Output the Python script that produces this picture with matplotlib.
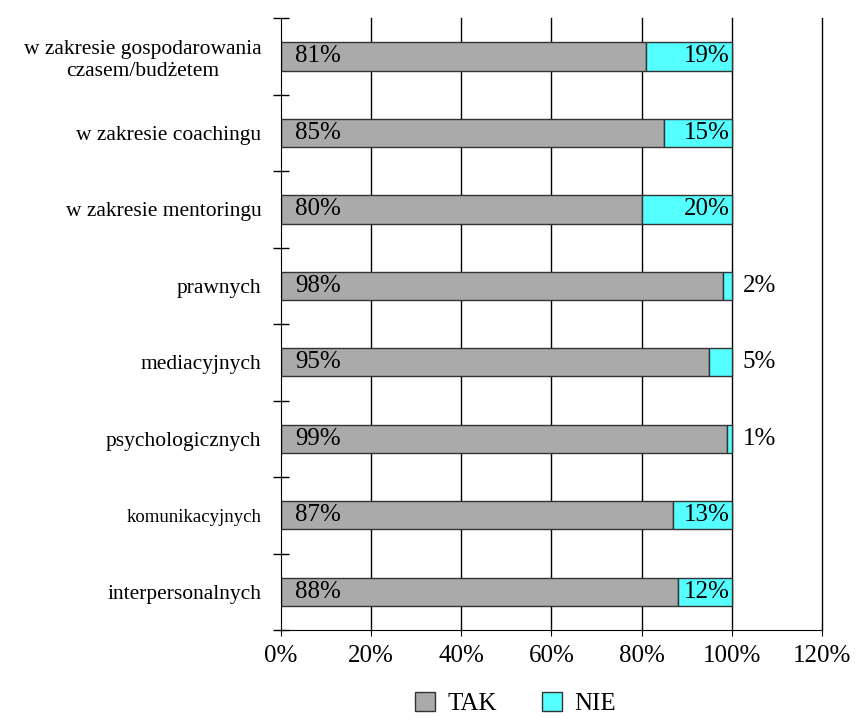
import numpy as np
import matplotlib.pyplot as plt
from matplotlib.ticker import FixedLocator

plt.rcParams['font.family'] = ['Liberation Serif', 'DejaVu Serif']

categories = ['w zakresie gospodarowania\nczasem/budżetem', 'w zakresie coachingu',
              'w zakresie mentoringu', 'prawnych', 'mediacyjnych',
              'psychologicznych', 'komunikacyjnych', 'interpersonalnych']
tak = [81, 85, 80, 98, 95, 99, 87, 88]
nie = [19, 15, 20, 2, 5, 1, 13, 12]
xticks = [0, 20, 40, 60, 80, 100, 120]

fig = plt.figure(figsize=(8.66, 7.18), dpi=100)
ax = fig.add_axes([0.3245, 0.1226, 0.6245, 0.852])

y = np.arange(len(categories))
h = 0.37
ax.barh(y, tak, height=h, color='#aaaaaa', edgecolor='#333333', linewidth=1, label='TAK')
ax.barh(y, nie, left=tak, height=h, color='#55ffff', edgecolor='#333333', linewidth=1, label='NIE')

for i in range(len(categories)):
    ax.text(3.2, i, '%d%%' % tak[i], ha='left', va='center', fontsize=18)
    if nie[i] >= 10:
        ax.text(99.5, i, '%d%%' % nie[i], ha='right', va='center', fontsize=18)
    else:
        ax.text(102.5, i, '%d%%' % nie[i], ha='left', va='center', fontsize=18)

ax.set_xlim(0, 120)
ax.set_ylim(len(categories) - 0.5, -0.5)
ax.set_xticks(xticks)
ax.set_xticklabels(['%d%%' % v for v in xticks], fontsize=18)
ax.set_yticks(y)
ax.set_yticklabels(categories, fontsize=15.5)
for lab in ax.get_yticklabels():
    lab.set_multialignment('center')
    if lab.get_text() == 'komunikacyjnych':
        lab.set_fontsize(13.5)
ax.tick_params(axis='y', which='major', length=0, pad=14)
ax.yaxis.set_minor_locator(FixedLocator(np.arange(-0.5, len(categories), 1)))
ax.tick_params(axis='y', which='minor', length=12, direction='inout', width=1)
ax.tick_params(axis='x', length=4, direction='out', pad=7)

for v in xticks[1:]:
    ax.axvline(v, color='black', linewidth=1, zorder=0, clip_on=False)

ax.spines['top'].set_visible(False)
ax.spines['right'].set_visible(False)
ax.spines['left'].set_color('black')
ax.spines['bottom'].set_color('black')

fig.legend(loc='lower center', bbox_to_anchor=(0.595, -0.017), ncol=2, frameon=False,
           fontsize=18, handlelength=0.8, handleheight=0.8, handletextpad=0.5,
           columnspacing=1.8, borderaxespad=0.2)

fig.savefig('out.png', dpi=100)
